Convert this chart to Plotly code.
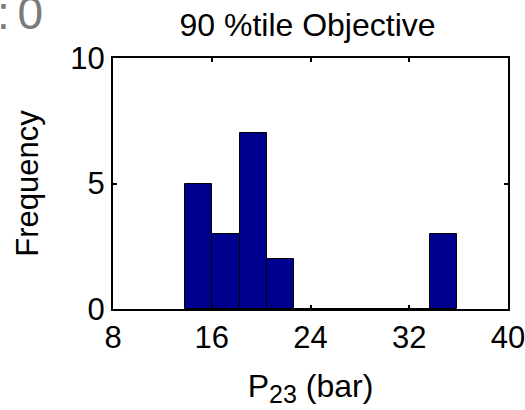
import plotly.graph_objects as go

# Data
bin_centers = [14.95, 17.15, 19.35, 21.55, 23.75, 25.95, 28.15, 30.35, 32.55, 34.75]
counts = [5, 3, 7, 2, 0, 0, 0, 0, 0, 3]
bin_width = 2.2
x_ticks = [8, 16, 24, 32, 40]
y_ticks = [0, 5, 10]

W, H = 525, 410
L, R, T, B = 113, 17, 58, 101
FONT = "Liberation Sans, Arial, sans-serif"

fig = go.Figure()
fig.add_trace(go.Bar(
    x=bin_centers, y=counts, width=bin_width,
    marker=dict(color="rgb(0,0,143)", line=dict(color="black", width=1)),
    showlegend=False,
))

axis_common = dict(
    showgrid=False, zeroline=False, showline=True, linecolor="black", linewidth=2,
    mirror="ticks", ticks="inside", ticklen=4, tickwidth=1.5, tickcolor="black",
    tickfont=dict(family=FONT, size=31, color="black"),
    ticklabeloverflow="allow", automargin=False,
)

fig.update_layout(
    width=W, height=H,
    margin=dict(l=L, r=R, t=T, b=B, pad=0, autoexpand=False),
    paper_bgcolor="white", plot_bgcolor="white",
    font=dict(family=FONT, color="black"),
    title=dict(text="90 %tile Objective", x=307.5 / W, xanchor="center",
               y=1 - 25 / H, yanchor="middle",
               font=dict(family=FONT, size=32, color="black")),
    xaxis=dict(range=[8, 40], tickvals=x_ticks, ticktext=[str(v) for v in x_ticks],
               title=dict(text="P<sub><span style='font-size:25px'>23</span></sub> (bar)",
                          font=dict(family=FONT, size=32), standoff=20),
               **axis_common),
    yaxis=dict(range=[0, 10], tickvals=y_ticks, ticktext=[str(v) for v in y_ticks],
               title=dict(text="Frequency", font=dict(family=FONT, size=31), standoff=22),
               **axis_common),
    bargap=0,
)

fig.add_annotation(
    text=":\u20060", xref="paper", yref="paper", showarrow=False,
    x=(45 - L) / (W - L - R), xanchor="right",
    y=(H - B - 13) / (H - T - B), yanchor="middle",
    font=dict(family=FONT, size=46, color="#7a7a7a"),
)

fig.write_html("out.html")
